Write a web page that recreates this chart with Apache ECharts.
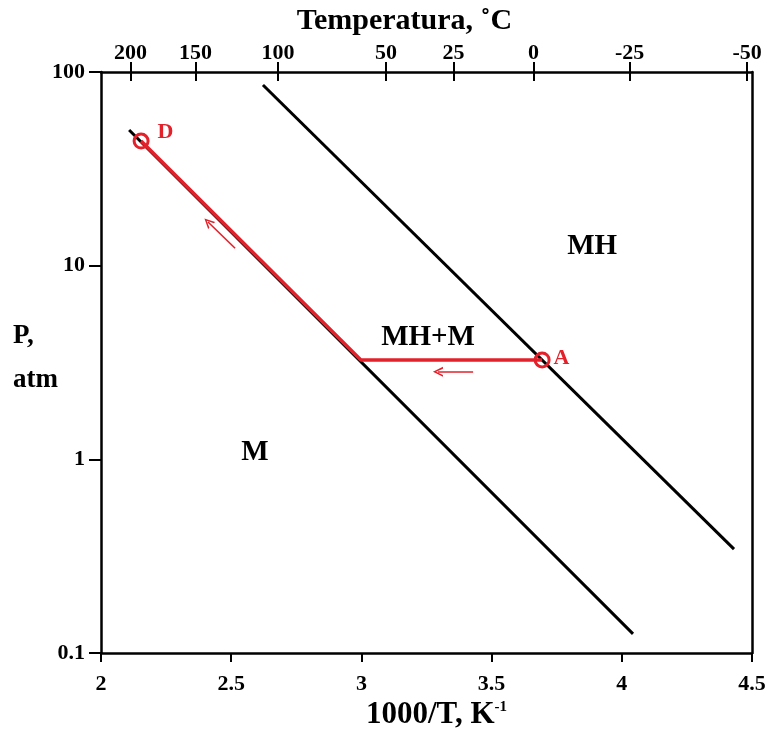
<!DOCTYPE html>
<html>
<head>
<meta charset="UTF-8">
<title>P vs 1000/T</title>
<script type="text/javascript" src="https://cdn.jsdelivr.net/npm/echarts@6/dist/echarts.min.js"></script>
<style>
  body { margin: 0; background: #fff; }
</style>
</head>
<body>
<div id="main" style="width: 775px;height:733px;"></div>
<script type="text/javascript">
// 两条相界线 (1000/T, P)
var lineLeft = [[2.108, 50.2], [4.043, 0.1256]];
var lineRight = [[2.622, 85.7], [4.431, 0.344]];
// 红色路径 D -> 拐点 -> A
var redPath = [[2.154, 44], [2.998, 3.26], [3.694, 3.26]];
var pointD = [2.154, 44];
var pointA = [3.694, 3.26];
// 小箭头 (起点, 终点)
var arrows = [
  [[2.515, 12.3], [2.411, 16.8]],
  [[3.429, 2.83], [3.294, 2.83]]
];
// 区域文字
var regionLabels = [
  { name: 'MH', pos: [3.886, 12.6] },
  { name: 'MH+M', pos: [3.256, 4.28] },
  { name: 'M', pos: [2.591, 1.09] }
];
// 刻度
var bottomTicks = [2, 2.5, 3, 3.5, 4, 4.5];
var leftTicks = [0.1, 1, 10, 100];
var tempTicks = [200, 150, 100, 50, 25, 0, -25, -50];

var red = '#e3212b';
var serif = '"Liberation Serif", "DejaVu Serif", serif';

var tempPos = tempTicks.map(function (t) { return 1000 / (t + 273.15); });

var myChart = echarts.init(document.getElementById('main'));
var option = {
  animation: false,
  grid: { left: 101, right: 23, top: 72, bottom: 80, outerBoundsMode: 'none' },
  xAxis: [{
    type: 'value',
    min: 2, max: 4.5, interval: 0.5,
    position: 'bottom',
    name: '1000/T, K{sup|-1}',
    nameLocation: 'middle',
    nameGap: 45,
    nameTextStyle: {
      fontFamily: serif, fontWeight: 'bold', fontSize: 31, color: '#000',
      padding: [0, 0, 0, 20],
      rich: { sup: { fontFamily: serif, fontWeight: 'bold', fontSize: 15, color: '#000', verticalAlign: 'top', padding: [0, 0, 16, 0] } }
    },
    axisLine: { lineStyle: { color: '#000', width: 2.5 } },
    axisTick: { inside: false, length: 9, lineStyle: { width: 2 } },
    splitLine: { show: false },
    axisLabel: {
      fontFamily: serif, fontWeight: 'bold', fontSize: 22, color: '#000', margin: 20,
      customValues: bottomTicks,
      formatter: function (v) { return String(v); }
    }
  }, {
    type: 'value',
    min: 2, max: 4.5,
    position: 'top',
    name: 'Temperatura, ˚C',
    nameLocation: 'middle',
    nameGap: 36,
    nameTextStyle: { fontFamily: serif, fontWeight: 'bold', fontSize: 30, color: '#000', padding: [0, 44, 0, 0] },
    axisLine: { lineStyle: { color: '#000', width: 2.5 } },
    axisTick: { customValues: tempPos, inside: false, length: 10, lineStyle: { width: 2 } },
    splitLine: { show: false },
    axisLabel: {
      fontFamily: serif, fontWeight: 'bold', fontSize: 22, color: '#000', margin: 8,
      customValues: tempPos,
      formatter: function (v) { return String(Math.round(1000 / v - 273.15)); }
    }
  }, {
    // 上轴刻度向内的那一半
    type: 'value',
    min: 2, max: 4.5,
    position: 'top',
    axisLine: { show: false },
    axisTick: { customValues: tempPos, inside: true, length: 9, lineStyle: { width: 2, color: '#000' } },
    axisLabel: { show: false },
    splitLine: { show: false }
  }],
  yAxis: [{
    type: 'log',
    logBase: 10,
    min: 0.1, max: 100,
    position: 'left',
    axisLine: { show: true, lineStyle: { color: '#000', width: 2.5 } },
    axisTick: { show: true, length: 12, lineStyle: { width: 2 } },
    minorTick: { show: false },
    splitLine: { show: false },
    axisLabel: {
      fontFamily: serif, fontWeight: 'bold', fontSize: 22, color: '#000', margin: 16,
      customValues: leftTicks,
      formatter: function (v) { return String(v); }
    }
  }, {
    type: 'log',
    logBase: 10,
    min: 0.1, max: 100,
    position: 'right',
    axisLine: { show: true, lineStyle: { color: '#000', width: 2.5 } },
    axisTick: { show: false },
    axisLabel: { show: false },
    splitLine: { show: false }
  }],
  graphic: [{
    type: 'text',
    left: 13,
    top: 314,
    style: {
      text: 'P,\natm',
      font: 'bold 27px ' + serif,
      fill: '#000',
      lineHeight: 44
    }
  }],
  series: [{
    type: 'line',
    data: lineLeft,
    symbol: 'none',
    lineStyle: { color: '#000', width: 3 },
    z: 2
  }, {
    type: 'line',
    data: lineRight,
    symbol: 'none',
    lineStyle: { color: '#000', width: 3 },
    z: 2
  }, {
    type: 'line',
    data: redPath,
    symbol: 'none',
    lineStyle: { color: red, width: 3.5 },
    z: 3
  }, {
    type: 'scatter',
    data: [
      { value: pointD, label: { formatter: 'D', position: [25, -11] } },
      { value: pointA, label: { formatter: 'A', position: [20, -4] } }
    ],
    symbol: 'circle',
    symbolSize: 14,
    itemStyle: { color: 'rgba(255,255,255,0)', borderColor: red, borderWidth: 3, opacity: 1 },
    label: {
      show: true,
      fontFamily: serif, fontWeight: 'bold', fontSize: 22, color: red
    },
    z: 4
  }, {
    type: 'lines',
    coordinateSystem: 'cartesian2d',
    data: arrows.map(function (a) { return { coords: a }; }),
    symbol: ['none', 'path://M0,10 L5,0 L10,10 L8.2,10 L5,3.2 L1.8,10 Z'],
    symbolSize: [0, 10],
    lineStyle: { color: red, width: 1.6, opacity: 1 },
    z: 3
  }, {
    type: 'scatter',
    data: regionLabels.map(function (r) { return { name: r.name, value: r.pos }; }),
    symbolSize: 0,
    itemStyle: { opacity: 1 },
    label: {
      show: true,
      position: 'inside',
      formatter: '{b}',
      fontFamily: serif, fontWeight: 'bold', fontSize: 29, color: '#000',
      textBorderWidth: 0
    },
    silent: true,
    z: 5
  }]
};
myChart.setOption(option);
</script>
</body>
</html>
